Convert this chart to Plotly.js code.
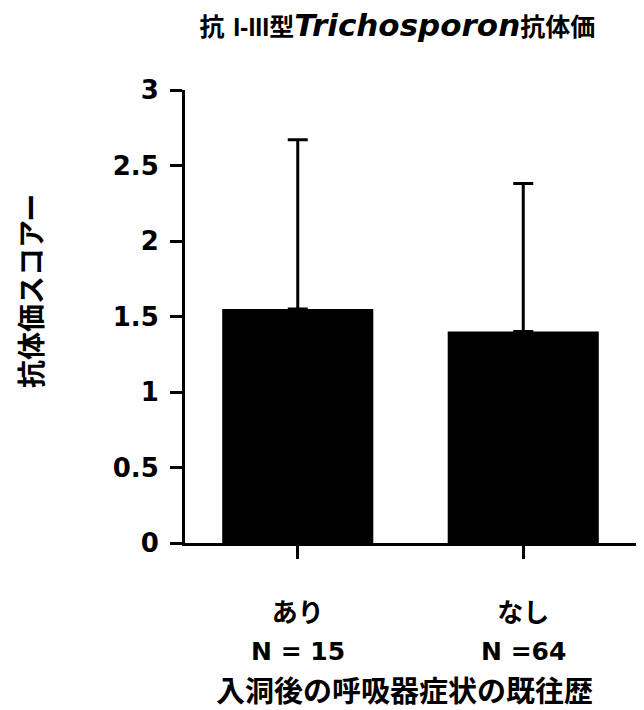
<!DOCTYPE html>
<html><head><meta charset="utf-8">
<script src="https://cdn.plot.ly/plotly-3.0.1.min.js"></script>
<style>html,body{margin:0;padding:0;background:#fff}#chart{width:644px;height:710px}</style>
</head><body><div id="chart"></div>
<script>
const categories = ["あり", "なし"];
const groupSizes = ["N = 15", "N =64"];
const meanScores = [1.55, 1.40];
const sdUpper = [1.12, 0.98];
const yTickVals = [0, 0.5, 1, 1.5, 2, 2.5, 3];
const yTickText = ["0", "0.5", "1", "1.5", "2", "2.5", "3"];
const chartTitle = "<b>抗 <span style='font-family:Liberation Sans'>I-III</span>型<i><span style='font-size:31px'>Trichosporon</span></i>抗体価</b>";
const yTitle = "<b>抗体価スコアー</b>";
const xTitle = "<b>入洞後の呼吸器症状の既往歴</b>";

const latin = "'DejaVu Sans', 'Noto Sans CJK JP', sans-serif";
const cjk = "'Noto Sans CJK JP', 'DejaVu Sans', sans-serif";

const trace = {
  type: "bar",
  x: categories,
  y: meanScores,
  width: 0.67,
  marker: {color: "#000", line: {width: 0}},
  error_y: {type: "data", symmetric: false, array: sdUpper, arrayminus: [0, 0],
            color: "#000", thickness: 3, width: 10},
  hoverinfo: "skip"
};

const annotations = groupSizes.map((n, i) => ({
  text: "<b>" + n + "</b>", x: categories[i], xref: "x", y: -0.2406, yref: "paper",
  xanchor: "center", yanchor: "middle", showarrow: false,
  font: {family: latin, size: 25, color: "#000"}
}));
annotations.push({
  text: yTitle, textangle: -90, x: -0.3437, xref: "paper", y: 0.556, yref: "paper",
  xanchor: "center", yanchor: "middle", showarrow: false,
  font: {family: cjk, size: 28, color: "#000"}
});
annotations.push({
  text: xTitle, x: 0.486, xref: "paper", y: -0.322, yref: "paper",
  xanchor: "center", yanchor: "middle", showarrow: false,
  font: {family: cjk, size: 29, color: "#000"}
});

const layout = {
  width: 644, height: 710,
  margin: {l: 185, r: 8, t: 90, b: 167},
  paper_bgcolor: "#fff", plot_bgcolor: "#fff",
  showlegend: false,
  font: {family: latin, color: "#000", size: 22},
  title: {text: chartTitle, x: 0.617, xanchor: "center",
          y: 0.962, yanchor: "middle", font: {family: latin, size: 25, color: "#000"}},
  xaxis: {
    type: "category", range: [-0.5, 1.5],
    showline: true, linecolor: "#000", linewidth: 3,
    ticks: "outside", ticklen: 13, tickwidth: 3, tickcolor: "#000",
    tickfont: {family: cjk, size: 26, color: "#000", weight: "bold"},
    ticklabelstandoff: 32,
    showgrid: false, zeroline: false, fixedrange: true
  },
  yaxis: {
    range: [0, 3], tickvals: yTickVals, ticktext: yTickText,
    showline: true, linecolor: "#000", linewidth: 3,
    ticks: "outside", ticklen: 12, tickwidth: 3, tickcolor: "#000",
    tickfont: {family: latin, size: 26, color: "#000", weight: "bold"},
    ticklabelstandoff: 6,
    showgrid: false, zeroline: false, fixedrange: true
  },
  annotations: annotations
};

Plotly.newPlot("chart", [trace], layout, {staticPlot: true, displayModeBar: false});
</script></body></html>
